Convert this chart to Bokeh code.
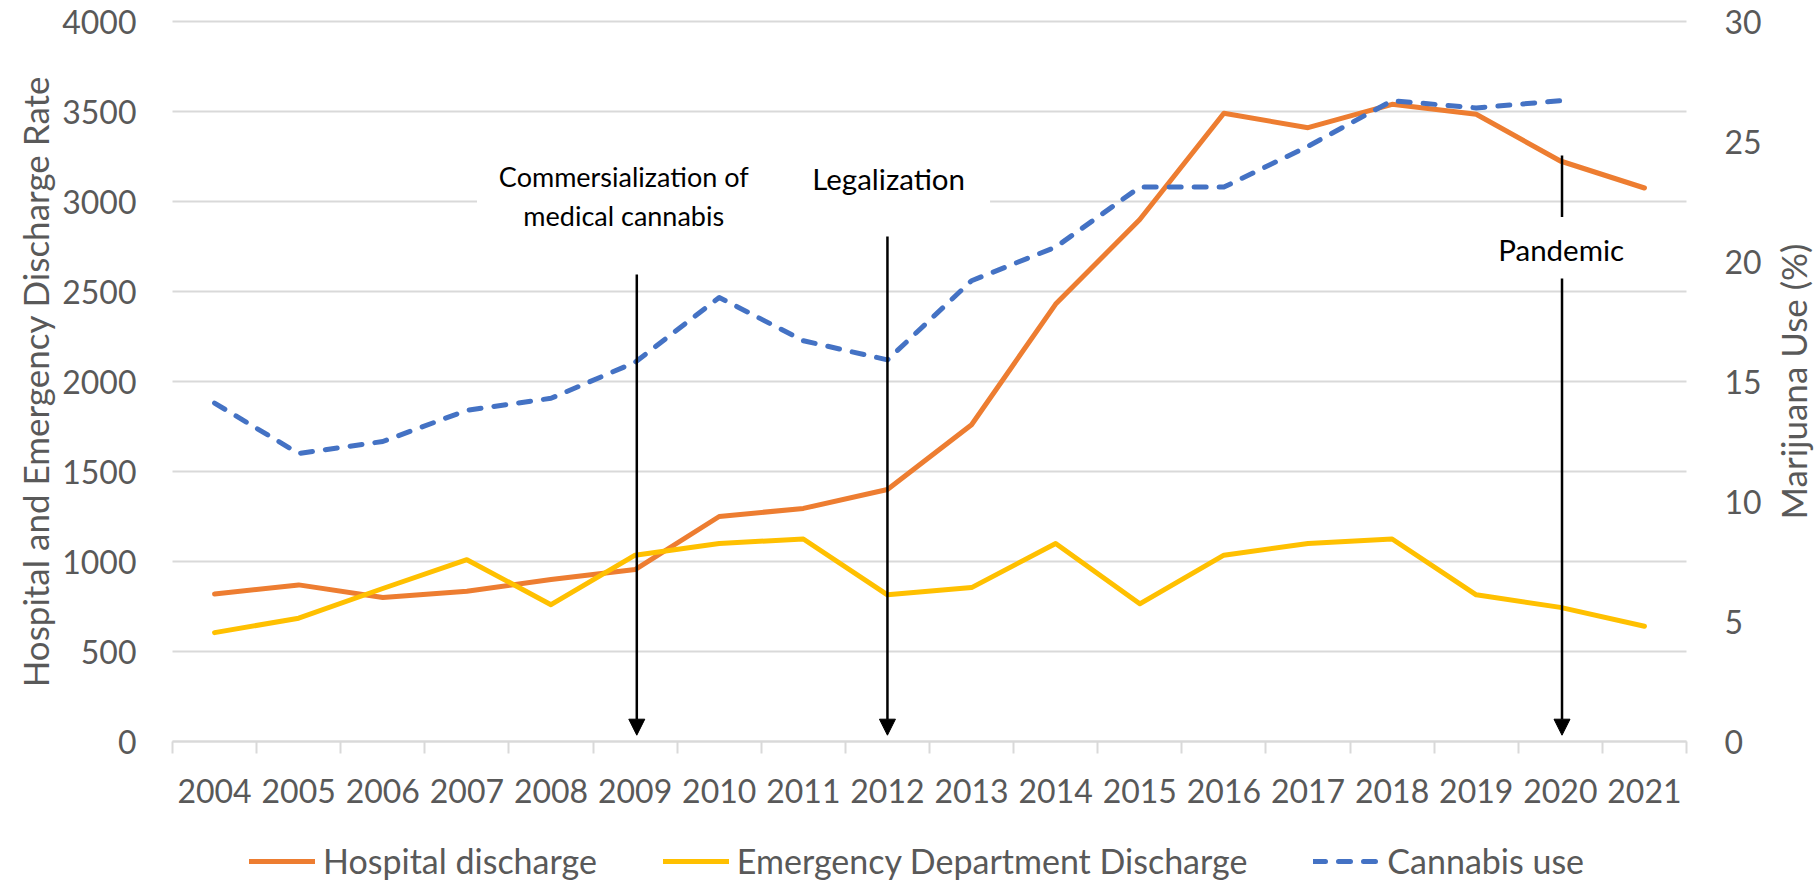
import math
from bokeh.plotting import figure
from bokeh.models import (Range1d, LinearAxis, FixedTicker, Legend, LegendItem,
                          Arrow, NormalHead)
from bokeh.core.properties import value
from bokeh.embed import file_html
from bokeh.resources import INLINE

# ---------------- data ----------------
years = [str(y) for y in range(2004, 2022)]
hospital = [820, 870, 800, 835, 900, 955, 1250, 1295, 1400, 1760, 2430, 2900,
            3490, 3410, 3540, 3485, 3225, 3075]
emergency = [605, 685, 850, 1010, 760, 1035, 1100, 1125, 815, 855, 1100, 765,
             1035, 1100, 1125, 815, 745, 640]
cannabis = [14.1, 12.0, 12.5, 13.8, 14.3, 15.8, 18.5, 16.7, 15.9, 19.2, 20.6,
            23.1, 23.1, 24.8, 26.7, 26.4, 26.7, float("nan")]
left_ticks = [0, 500, 1000, 1500, 2000, 2500, 3000, 3500, 4000]
right_ticks = [0, 5, 10, 15, 20, 25, 30]
events = ["2009", "2012", "2020"]
event_labels = ["Commersialization of\nmedical cannabis", "Legalization", "Pandemic"]
left_title = "Hospital and Emergency Discharge Rate"
right_title = "Marijuana Use (%)"

FONT = "Lato"
GREY = "#595959"
GRID = "#D9D9D9"

# ---------------- layout (pixels) ----------------
W, H = 1816, 884
FX0, FX1 = 172, 1686      # plot area left / right
FY_TOP, FY_ZERO = 21, 741  # value 4000 / value 0
LEFT_MAX, RIGHT_MAX = 4000, 30
n = len(years)
ppx = (FX1 - FX0) / n                 # px per category
ppy = (FY_ZERO - FY_TOP) / LEFT_MAX   # px per left unit

def dx(px):
    return (px - FX0) / ppx

xr = Range1d(dx(0), dx(W))
yr = Range1d(-(H - FY_ZERO) / ppy, LEFT_MAX + FY_TOP / ppy)
k = RIGHT_MAX / LEFT_MAX
yr2 = Range1d(yr.start * k, yr.end * k)

xc = [i + 0.5 for i in range(n)]  # category centres

p = figure(width=W, height=H, x_range=xr, y_range=yr,
           output_backend="svg", toolbar_location=None,
           min_border_left=0, min_border_right=0, min_border_top=0,
           min_border_bottom=0)
p.outline_line_color = None
p.background_fill_color = "white"
p.xgrid.visible = False
p.ygrid.visible = False
p.extra_y_ranges = {"pct": yr2}

# horizontal grid lines across the plot area
p.segment(x0=[0] * len(left_ticks), x1=[n] * len(left_ticks),
          y0=left_ticks, y1=left_ticks, line_color=GRID, line_width=2)

# x axis pinned at zero
xa = p.xaxis[0]
xa.fixed_location = 0
xa.bounds = (0, n)
xa.ticker = FixedTicker(ticks=xc, minor_ticks=list(range(n + 1)))
xa.major_label_overrides = {c: y for c, y in zip(xc, years)}
xa.major_tick_line_color = None
xa.major_tick_out = 0
xa.major_tick_in = 0
xa.minor_tick_line_color = GRID
xa.minor_tick_line_width = 2
xa.minor_tick_out = 12
xa.minor_tick_in = 0
xa.axis_line_color = GRID
xa.axis_line_width = 2
xa.major_label_standoff = 25
xa.major_label_text_font = FONT
xa.major_label_text_font_size = "32px"
xa.major_label_text_color = GREY

# left axis pinned at the plot area's left edge
ya = p.yaxis[0]
ya.fixed_location = 0
ya.bounds = (0, LEFT_MAX)
ya.ticker = FixedTicker(ticks=left_ticks)
ya.axis_line_color = None
ya.major_tick_line_color = None
ya.minor_tick_line_color = None
ya.major_tick_out = 0
ya.major_label_standoff = 36
ya.major_label_text_font = FONT
ya.major_label_text_font_size = "32px"
ya.major_label_text_color = GREY

# right axis pinned at the plot area's right edge
ra = LinearAxis(y_range_name="pct", ticker=FixedTicker(ticks=right_ticks),
                fixed_location=n, bounds=(0, RIGHT_MAX))
ra.axis_line_color = None
ra.major_tick_line_color = None
ra.minor_tick_line_color = None
ra.major_tick_out = 0
ra.major_label_standoff = 38
ra.major_label_text_font = FONT
ra.major_label_text_font_size = "32px"
ra.major_label_text_color = GREY
p.add_layout(ra, "right")

# axis titles
p.text(x=[dx(34)], y=[LEFT_MAX / 2], text=[left_title], angle=math.pi / 2,
       text_font=value(FONT), text_font_size="35px", text_color=GREY,
       text_align="center", text_baseline="middle")
p.text(x=[dx(1792)], y=[RIGHT_MAX / 2], y_range_name="pct", text=[right_title],
       angle=math.pi / 2, text_font=value(FONT), text_font_size="35px",
       text_color=GREY, text_align="center", text_baseline="middle")

# white text box behind first two annotations (hides grid line)
p.quad(left=[3.62], right=[9.72], bottom=[2850], top=[3350],
       fill_color="white", line_color=None)

# series
r_h = p.line(xc, hospital, line_color="#ED7D31", line_width=5,
             line_join="round", line_cap="round")
r_e = p.line(xc, emergency, line_color="#FFC000", line_width=5,
             line_join="round", line_cap="round")
r_c = p.line(xc, cannabis, y_range_name="pct", line_color="#4472C4",
             line_width=5, line_dash="12 13", line_join="round", line_cap="round")

# annotations
ex = [years.index(e) + 0.5 for e in events]
arrow_tops = [2594, 2805, 2572]
offs = [0.02, 0.0, 0.02]
for x0, o, top in zip(ex, offs, arrow_tops):
    p.add_layout(Arrow(end=NormalHead(size=16, fill_color="black", line_color="black"),
                       x_start=x0 + o, y_start=top, x_end=x0 + o, y_end=35,
                       line_width=2.5, line_color="black"))
p.segment(x0=[ex[2] + 0.02], y0=[3255], x1=[ex[2] + 0.02], y1=[2914],
          line_color="black", line_width=2.5)

p.text(x=[ex[0] - 0.135], y=[3031], text=event_labels[:1],
       text_font=value(FONT), text_font_size="27px",
       text_align="center", text_baseline="middle", text_color="black",
       text_line_height=1.2)
p.text(x=[ex[1] + 0.014, ex[2] + 0.01], y=[3128, 2733], text=event_labels[1:],
       text_font=value(FONT), text_font_size="29.5px",
       text_align="center", text_baseline="middle", text_color="black")

legend = Legend(items=[LegendItem(label="Hospital discharge", renderers=[r_h]),
                       LegendItem(label="Emergency Department Discharge", renderers=[r_e]),
                       LegendItem(label="Cannabis use", renderers=[r_c])],
                orientation="horizontal", location=(249, 3),
                glyph_width=66, glyph_height=20, label_standoff=8, spacing=66,
                padding=0, margin=0, border_line_color=None,
                background_fill_alpha=0, label_text_font=FONT,
                label_text_font_size="34px", label_text_color=GREY,
                label_height=30)
p.add_layout(legend)

open("out.html", "w").write(file_html(p, INLINE))
